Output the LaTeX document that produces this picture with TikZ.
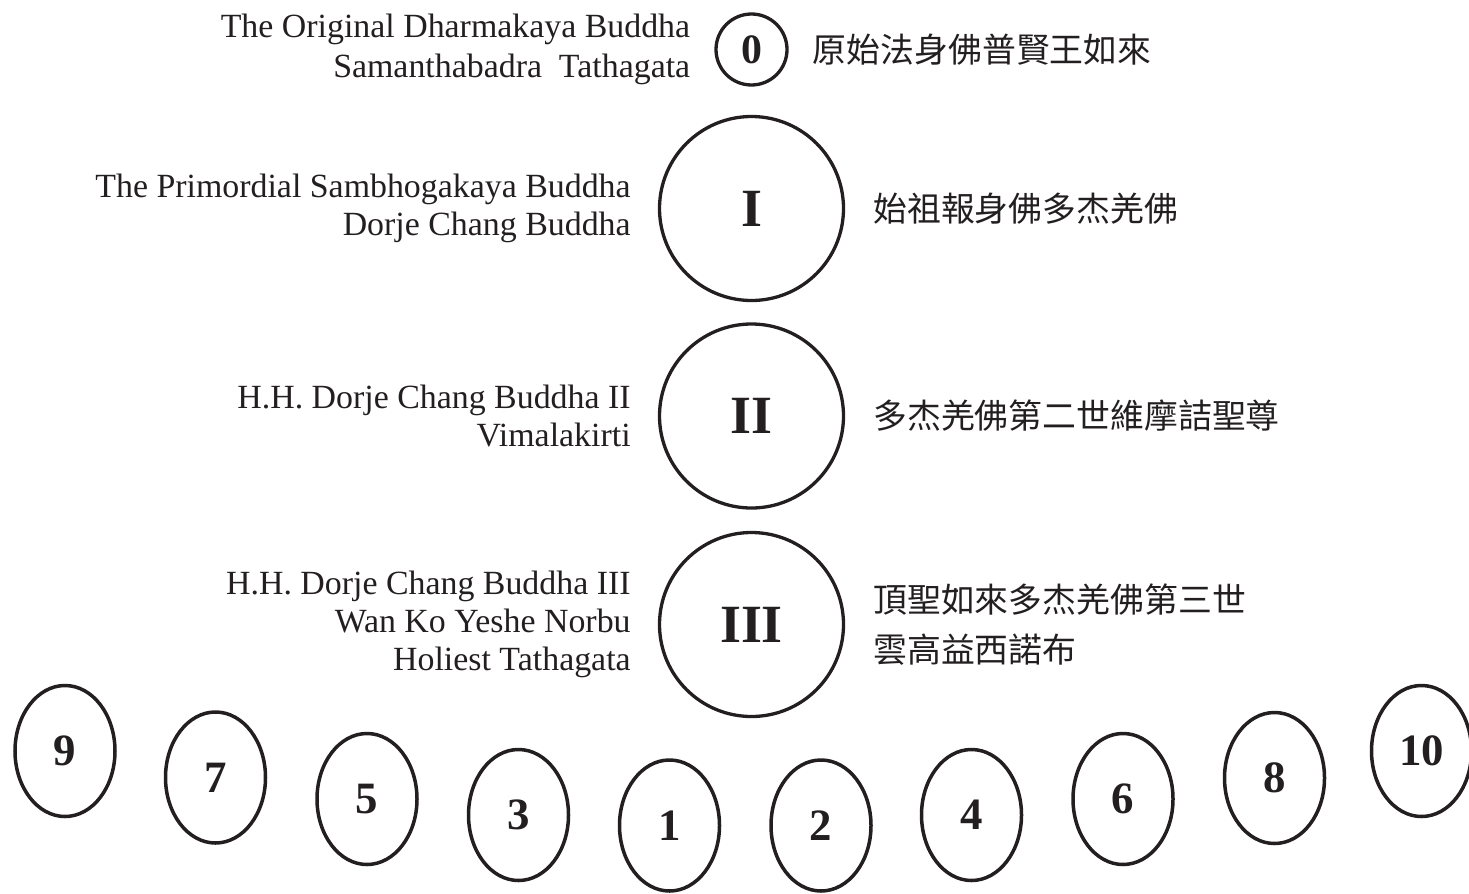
\documentclass[tikz,border=0pt]{standalone}
\usepackage{fontspec}
\setmainfont{Liberation Serif}
\newfontfamily\cjk{Noto Sans CJK TC}
\usetikzlibrary{positioning, shapes.geometric}
\definecolor{inkcol}{HTML}{231F20}
\tikzset{
  every node/.style={text=inkcol, inner sep=0pt},
  ring/.style={draw=inkcol, line width=3.3bp, circle, minimum size=184bp,
    font=\bfseries\fontsize{54}{54}\selectfont},
  smallring/.style={draw=inkcol, line width=3.3bp, circle, minimum size=71bp,
    font=\bfseries\fontsize{42}{42}\selectfont},
  seat/.style={draw=inkcol, line width=3.5bp, ellipse, minimum width=100bp,
    minimum height=131bp, font=\bfseries\fontsize{45}{45}\selectfont},
  enname/.style={align=right, font=\fontsize{34}{38}\selectfont},
  zhname/.style={align=left, font=\cjk\fontsize{34}{50}\selectfont}
}

\begin{document}
\begin{tikzpicture}[x=1bp, y=-1bp]
  % Fixed frame of the page.
  \path[use as bounding box] (0,0) rectangle (1469,893);

  % Lineage circles, top to bottom.
  \node[smallring] (c0) at (751.5,49.5) {0};
  \node[ring] (c1) at (751.5,208.5) {I};
  \node[ring] (c2) at (751.5,416) {II};
  \node[ring] (c3) at (751.5,624.5) {III};

  % English names, left of the circles.
  \node[enname, left=24bp of c0] (en0) {The Original Dharmakaya Buddha\\[2bp]Samanthabadra\ \ Tathagata};
  \node[enname, left=27bp of c1] (en1) {The Primordial Sambhogakaya Buddha\\Dorje Chang Buddha};
  \node[enname, left=27bp of c2] (en2) {H.H. Dorje Chang Buddha II\\Vimalakirti};
  \node[enname, left=27bp of c3] (en3) {H.H. Dorje Chang Buddha III\\Wan Ko Yeshe Norbu\\Holiest Tathagata};

  % Chinese names, right of the circles.
  \node[zhname, right=24bp of c0] (zh0) {原始法身佛普賢王如來};
  \node[zhname, right=28bp of c1] (zh1) {始祖報身佛多杰羌佛};
  \node[zhname, right=28bp of c2] (zh2) {多杰羌佛第二世維摩詰聖尊};
  \node[zhname, right=28bp of c3] (zh3) {頂聖如來多杰羌佛第三世\\雲高益西諾布};

  % Bottom row, odd numbers left and even numbers right.
  \node[seat] (s9) at (65,751) {9};
  \node[seat] (s7) at (215.5,777.5) {7};
  \node[seat] (s5) at (367,799) {5};
  \node[seat] (s3) at (518.5,815) {3};
  \node[seat] (s1) at (669.5,825.5) {1};
  \node[seat] (s2) at (821,825.5) {2};
  \node[seat] (s4) at (971.5,815) {4};
  \node[seat] (s6) at (1123,799) {6};
  \node[seat] (s8) at (1274.5,778) {8};
  \node[seat] (s10) at (1421.5,751) {10};
\end{tikzpicture}
\end{document}
